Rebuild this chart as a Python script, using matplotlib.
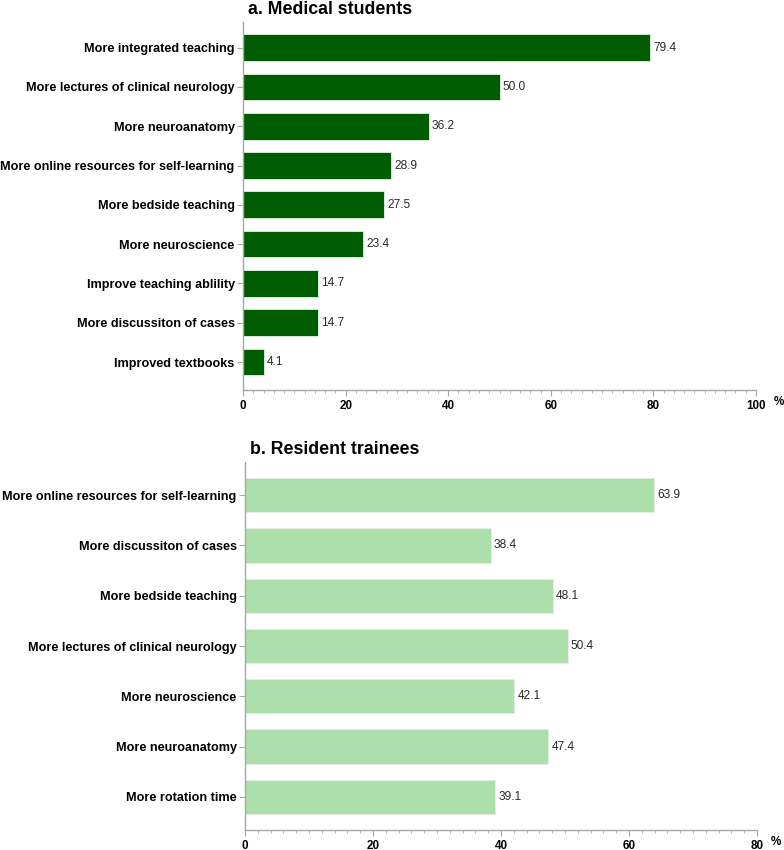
import numpy as np
import matplotlib
matplotlib.use("Agg")
import matplotlib.pyplot as plt
from matplotlib.ticker import MultipleLocator

plt.rcParams['font.family'] = ['Liberation Sans', 'DejaVu Sans']

# panel a data, top to bottom
students_labels = ['More integrated teaching', 'More lectures of clinical neurology',
                   'More neuroanatomy', 'More online resources for self-learning',
                   'More bedside teaching', 'More neuroscience',
                   'Improve teaching ablility', 'More discussiton of cases',
                   'Improved textbooks']
students_values = [79.4, 50.0, 36.2, 28.9, 27.5, 23.4, 14.7, 14.7, 4.1]

# panel b data, top to bottom
residents_labels = ['More online resources for self-learning', 'More discussiton of cases',
                    'More bedside teaching', 'More lectures of clinical neurology',
                    'More neuroscience', 'More neuroanatomy', 'More rotation time']
residents_values = [63.9, 38.4, 48.1, 50.4, 42.1, 47.4, 39.1]

GRAY = '#a8a8a8'


def panel(ax, labels, values, color, xmax, title, ylim, pct_off):
    n = len(labels)
    y = np.arange(n)
    ax.barh(y, values, height=0.68, color=color, edgecolor='#e4f0e4', linewidth=0.6)
    for yi, v in zip(y, values):
        ax.annotate(f'{v:.1f}', (v, yi), xytext=(3, 0), textcoords='offset pixels',
                    va='center', ha='left', fontsize=8.6, color='#2a2a2a')
    ax.set_ylim(*ylim)
    ax.set_xlim(0, xmax)
    ax.set_yticks(y)
    ax.set_yticklabels(labels, fontsize=9.1, fontweight='bold')
    ax.xaxis.set_major_locator(MultipleLocator(20))
    ax.xaxis.set_minor_locator(MultipleLocator(2))
    ax.set_xticklabels([str(int(t)) for t in ax.get_xticks()], fontsize=8.4, fontweight='bold')
    for s in ['top', 'right']:
        ax.spines[s].set_visible(False)
    for s in ['left', 'bottom']:
        ax.spines[s].set_color(GRAY)
        ax.spines[s].set_linewidth(1.0)
    ax.tick_params(axis='y', length=4, color=GRAY, pad=2)
    ax.tick_params(axis='x', which='major', length=4, color=GRAY, pad=3)
    ax.tick_params(axis='x', which='minor', length=2.5, color=GRAY)
    # percent sign to the right of the last tick label
    ax.annotate('%', (xmax, 0), xycoords=('data', 'axes fraction'),
                xytext=(pct_off, -12), textcoords='offset pixels',
                fontsize=8.4, fontweight='bold', va='center', ha='left')
    ax.annotate(title, (0, 1), xycoords='axes fraction', xytext=(5, 8),
                textcoords='offset pixels', fontsize=12.8, fontweight='bold',
                va='baseline', ha='left')


fig = plt.figure(figsize=(7.84, 8.5), dpi=100)
ax1 = fig.add_axes([0.3100, 0.5412, 0.6543, 0.4329])
ax2 = fig.add_axes([0.3125, 0.0235, 0.6530, 0.4330])

panel(ax1, students_labels, students_values, '#005c00', 100, 'a. Medical students',
      (8.71, -0.65), 18)
panel(ax2, residents_labels, residents_values, '#addfad', 80, 'b. Resident trainees',
      (6.66, -0.66), 14)

fig.savefig('out.png', dpi=100)
